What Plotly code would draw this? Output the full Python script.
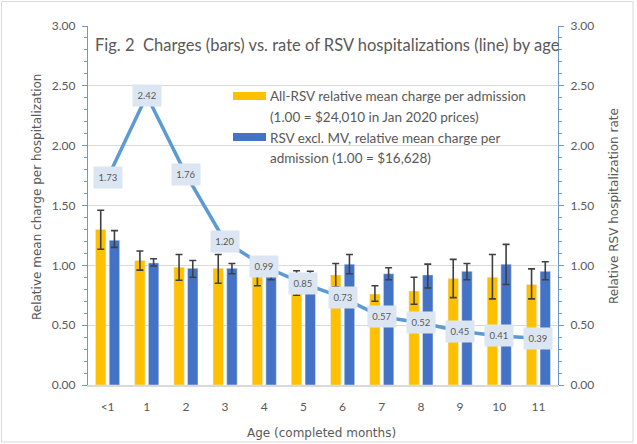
import plotly.graph_objects as go

# ---- data ----
ages = ["<1", "1", "2", "3", "4", "5", "6", "7", "8", "9", "10", "11"]

all_rsv = [1.30, 1.04, 0.985, 0.975, 0.91, 0.85, 0.92, 0.76, 0.785, 0.89, 0.90, 0.84]
all_rsv_hi = [1.46, 1.12, 1.09, 1.09, 1.00, 0.955, 1.015, 0.83, 0.90, 1.05, 1.09, 0.97]
all_rsv_lo = [1.135, 0.96, 0.875, 0.85, 0.83, 0.75, 0.82, 0.70, 0.675, 0.73, 0.72, 0.72]

excl_mv = [1.21, 1.02, 0.975, 0.975, 0.93, 0.90, 1.01, 0.93, 0.92, 0.95, 1.01, 0.95]
excl_mv_hi = [1.29, 1.055, 1.04, 1.015, 0.98, 0.95, 1.09, 0.98, 1.01, 1.015, 1.175, 1.03]
excl_mv_lo = [1.15, 0.995, 0.90, 0.93, 0.88, 0.85, 0.93, 0.88, 0.81, 0.88, 0.84, 0.88]

hosp_rate = [1.73, 2.42, 1.76, 1.20, 0.99, 0.85, 0.73, 0.57, 0.52, 0.45, 0.41, 0.39]

title_text = "Fig. 2  Charges (bars) vs. rate of RSV hospitalizations (line) by age"
legend_lines = [
    "All-RSV relative mean charge per admission",
    "(1.00 = $24,010 in Jan 2020 prices)",
    "RSV excl. MV, relative mean charge per",
    "admission (1.00 = $16,628)",
]
y_left_title = "Relative mean charge per hospitalization"
y_right_title = "Relative RSV hospitalization rate"
x_title = "Age (completed months)"

# ---- styling ----
W, H = 637, 444
ML, MR, MT, MB = 88, 79, 26, 59
PW, PH = W - ML - MR, H - MT - MB
YELLOW = "#FFC000"
BLUE = "#4472C4"
LINE = "#5B9BD5"
AXIS = "#6A9BCB"
GRID = "#D9D9D9"
TXT = "#595959"
ERR = "#404040"


def px_x(x):
    return (x - ML) / PW


def px_y(y):
    return (MT + PH - y) / PH


fig = go.Figure()

fig.add_trace(go.Bar(
    x=ages, y=all_rsv, name=legend_lines[0], marker_color=YELLOW,
    error_y=dict(type="data", symmetric=False,
                 array=[h - v for h, v in zip(all_rsv_hi, all_rsv)],
                 arrayminus=[v - l for v, l in zip(all_rsv, all_rsv_lo)],
                 color=ERR, thickness=1.6, width=3.5),
))
fig.add_trace(go.Bar(
    x=ages, y=excl_mv, name=legend_lines[2], marker_color=BLUE,
    error_y=dict(type="data", symmetric=False,
                 array=[h - v for h, v in zip(excl_mv_hi, excl_mv)],
                 arrayminus=[v - l for v, l in zip(excl_mv, excl_mv_lo)],
                 color=ERR, thickness=1.6, width=3.5),
))
fig.add_trace(go.Scatter(
    x=ages, y=hosp_rate, mode="lines", yaxis="y2",
    line=dict(color=LINE, width=3.5), name="rate",
))

annotations = []
for a, v in zip(ages, hosp_rate):
    annotations.append(dict(
        x=a, y=v, xref="x", yref="y2", text=f"{v:.2f}", showarrow=False,
        font=dict(family="Lato", size=9.5, color=TXT),
        bgcolor="#DCE6F2", borderpad=4, width=20, height=13,
        xanchor="center", yanchor="middle",
    ))

annotations.append(dict(
    x=px_x(93), y=px_y(45), xref="paper", yref="paper", text=title_text,
    showarrow=False, xanchor="left", yanchor="middle",
    font=dict(family="Lato", size=16.5, color=TXT),
))

legend_y = [96, 117, 138, 158]
for t, yy in zip(legend_lines, legend_y):
    annotations.append(dict(
        x=px_x(268), y=px_y(yy), xref="paper", yref="paper", text=t,
        showarrow=False, xanchor="left", yanchor="middle",
        font=dict(family="Lato", size=13.5, color=TXT),
    ))

title_font = dict(family="DejaVu Sans", size=12, color=TXT)
annotations += [
    dict(x=px_x(37), y=px_y(197), xref="paper", yref="paper", text=y_left_title,
         textangle=-90, showarrow=False, xanchor="center", yanchor="middle", font=title_font),
    dict(x=px_x(614), y=px_y(206), xref="paper", yref="paper", text=y_right_title,
         textangle=-90, showarrow=False, xanchor="center", yanchor="middle", font=title_font),
    dict(x=px_x(321), y=px_y(433), xref="paper", yref="paper", text=x_title,
         showarrow=False, xanchor="center", yanchor="middle", font=title_font),
]

shapes = [
    dict(type="rect", xref="paper", yref="paper",
         x0=px_x(233), x1=px_x(266), y0=px_y(100), y1=px_y(92),
         fillcolor=YELLOW, line=dict(width=0)),
    dict(type="rect", xref="paper", yref="paper",
         x0=px_x(233), x1=px_x(266), y0=px_y(141), y1=px_y(133),
         fillcolor=BLUE, line=dict(width=0)),
    dict(type="rect", xref="paper", yref="paper",
         x0=px_x(1.5), x1=px_x(633), y0=px_y(442), y1=px_y(1.5),
         line=dict(color=GRID, width=1), layer="below"),
]

tick_font = dict(family="Lato", size=12, color=TXT)
yax_common = dict(
    range=[0, 3], dtick=0.5, tickformat=".2f", tickfont=tick_font,
    showline=True, linecolor=AXIS, linewidth=1.2,
    ticks="outside", ticklen=5, tickcolor=AXIS, tickwidth=1.2, ticklabelstandoff=4,
    minor=dict(dtick=0.1, ticks="outside", ticklen=3, tickcolor=AXIS, tickwidth=1.2, showgrid=False),
    zeroline=False, fixedrange=True, automargin=False,
)

fig.update_layout(
    width=W, height=H,
    margin=dict(l=ML, r=MR, t=MT, b=MB, pad=0),
    paper_bgcolor="white", plot_bgcolor="white",
    showlegend=False,
    barmode="group", bargap=0.30, bargroupgap=0.24,
    xaxis=dict(
        range=[-0.5, 11.5], tickfont=tick_font, showline=True, linecolor=GRID, linewidth=1.5,
        ticks="outside", ticklen=10, tickcolor="rgba(0,0,0,0)", showgrid=False, automargin=False,
    ),
    yaxis=dict(**yax_common, showgrid=True, gridcolor=GRID, gridwidth=1.3),
    yaxis2=dict(**yax_common, overlaying="y", side="right", showgrid=False),
    annotations=annotations,
    shapes=shapes,
)

fig.write_html(
    "out.html",
    config={"displayModeBar": False},
    post_script="document.body.style.margin='0px';document.body.style.overflow='hidden';",
)
